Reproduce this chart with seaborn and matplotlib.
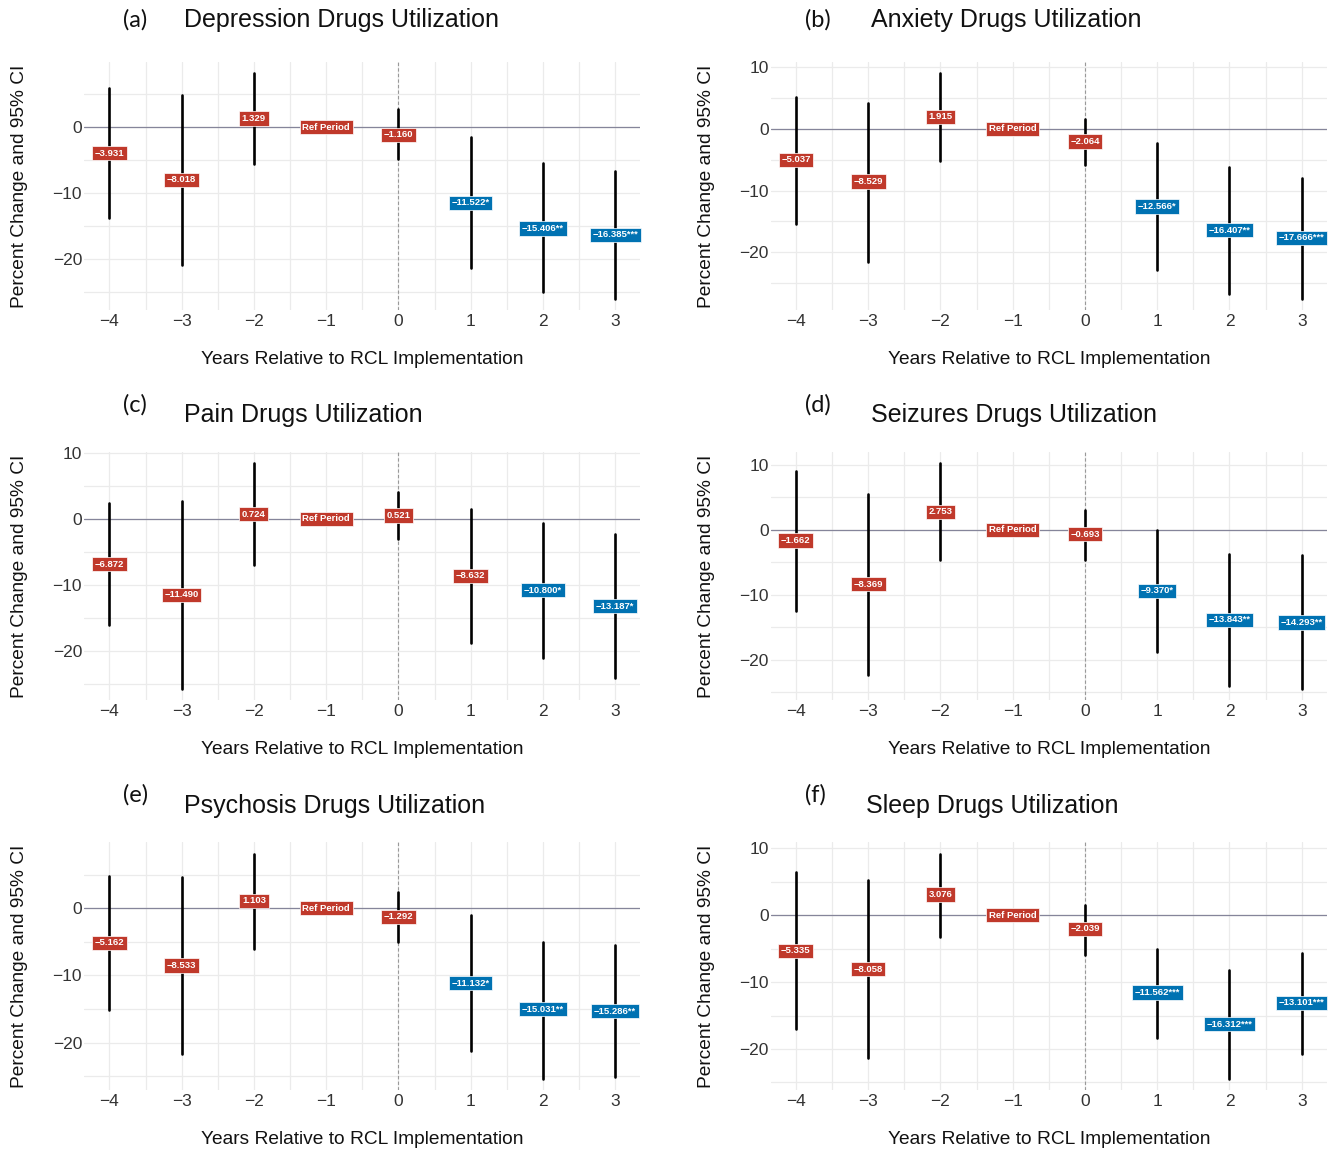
import numpy as np
import pandas as pd
import seaborn as sns
import matplotlib.pyplot as plt
from matplotlib.ticker import MultipleLocator

sns.set_theme(style='whitegrid')
plt.rcParams['font.family'] = ['Liberation Sans', 'DejaVu Sans']

# Event-study estimates (year -1 is the reference period)
years = [-4, -3, -2, -1, 0, 1, 2, 3]

dep_est = [-3.931, -8.018, 1.329, 0, -1.160, -11.522, -15.406, -16.385]
dep_lo = [-13.8, -20.9, -5.6, np.nan, -4.9, -21.4, -25.1, -26.1]
dep_hi = [5.9, 4.9, 8.2, np.nan, 2.7, -1.5, -5.5, -6.6]
dep_sig = ['', '', '', '', '', '*', '**', '***']

anx_est = [-5.037, -8.529, 1.915, 0, -2.064, -12.566, -16.407, -17.666]
anx_lo = [-15.4, -21.5, -5.3, np.nan, -5.8, -22.8, -26.7, -27.5]
anx_hi = [5.2, 4.2, 8.95, np.nan, 1.6, -2.35, -6.2, -7.9]
anx_sig = ['', '', '', '', '', '*', '**', '***']

pain_est = [-6.872, -11.490, 0.724, 0, 0.521, -8.632, -10.800, -13.187]
pain_lo = [-16.1, -25.75, -6.9, np.nan, -3.1, -18.85, -21.0, -24.1]
pain_hi = [2.45, 2.75, 8.4, np.nan, 4.1, 1.5, -0.6, -2.3]
pain_sig = ['', '', '', '', '', '', '*', '*']

seiz_est = [-1.662, -8.369, 2.753, 0, -0.693, -9.370, -13.843, -14.293]
seiz_lo = [-12.5, -22.3, -4.7, np.nan, -4.7, -18.75, -24.0, -24.5]
seiz_hi = [9.1, 5.5, 10.2, np.nan, 3.1, 0.0, -3.75, -3.9]
seiz_sig = ['', '', '', '', '', '*', '**', '**']

psy_est = [-5.162, -8.533, 1.103, 0, -1.292, -11.132, -15.031, -15.286]
psy_lo = [-15.2, -21.6, -6.0, np.nan, -5.1, -21.2, -25.4, -25.1]
psy_hi = [4.8, 4.6, 8.1, np.nan, 2.4, -1.0, -5.1, -5.5]
psy_sig = ['', '', '', '', '', '*', '**', '**']

sleep_est = [-5.335, -8.058, 3.076, 0, -2.039, -11.562, -16.312, -13.101]
sleep_lo = [-17.0, -21.4, -3.3, np.nan, -5.9, -18.3, -24.5, -20.8]
sleep_hi = [6.4, 5.2, 9.2, np.nan, 1.5, -5.0, -8.2, -5.6]
sleep_sig = ['', '', '', '', '', '***', '***', '***']

panels = [
    ('(a)', 'Depression Drugs Utilization', dep_est, dep_lo, dep_hi, dep_sig),
    ('(b)', 'Anxiety Drugs Utilization', anx_est, anx_lo, anx_hi, anx_sig),
    ('(c)', 'Pain Drugs Utilization', pain_est, pain_lo, pain_hi, pain_sig),
    ('(d)', 'Seizures Drugs Utilization', seiz_est, seiz_lo, seiz_hi,
     seiz_sig),
    ('(e)', 'Psychosis Drugs Utilization', psy_est, psy_lo, psy_hi, psy_sig),
    ('(f)', 'Sleep Drugs Utilization', sleep_est, sleep_lo, sleep_hi,
     sleep_sig),
]

RED = '#C0392B'
BLUE = '#0072B2'


def draw_panel(ax, letter, title, est, lo, hi, sig, row):
    """
    Draws one event-study panel: CI segments, zero line, labels
    """
    rows = []
    for yr, a, b in zip(years, lo, hi):
        if not np.isnan(a):
            rows.append({'year': yr, 'value': a})
            rows.append({'year': yr, 'value': b})
    df = pd.DataFrame(rows)
    ax.axhline(0, color='#85859a', lw=0.9, zorder=1.5)
    ax.axvline(0, color='#999999', lw=0.8, ls=(0, (3, 2)), zorder=1.5)
    sns.lineplot(data=df, x='year', y='value', units='year', estimator=None,
                 color='black', linewidth=1.9, ax=ax, zorder=2)

    for yr, e, s in zip(years, est, sig):
        if yr == -1:
            text = 'Ref Period'
        else:
            text = f'{e:.3f}'.replace('-', '\u2212') + s
        color = BLUE if s else RED
        ax.text(yr, e, text, ha='center', va='center', fontsize=6.8,
                weight='bold', color='white', zorder=5,
                bbox=dict(boxstyle='square,pad=0.28', fc=color,
                          ec='white', lw=0.5))

    ax.xaxis.set_major_locator(MultipleLocator(1))
    ax.xaxis.set_minor_locator(MultipleLocator(0.5))
    ax.yaxis.set_major_locator(MultipleLocator(10))
    ax.yaxis.set_minor_locator(MultipleLocator(5))
    ax.grid(which='both', color='#EBEBEB', lw=0.9)
    ax.tick_params(which='both', length=0, labelsize=12.5,
                   labelcolor='#333333')
    ax.tick_params(axis='x', pad=2.5)
    ax.tick_params(axis='y', pad=1.5)
    for sp in ax.spines.values():
        sp.set_visible(False)

    ax.set_xlabel('Years Relative to RCL Implementation', fontsize=13.8,
                  color='#111111')
    ax.set_ylabel('Percent Change and 95% CI', fontsize=13.8,
                  color='#111111')
    ax.xaxis.set_label_coords(0.5, -0.163)
    ax.yaxis.set_label_coords(-0.1, 0.5)

    letter_y = 1.17 if row == 0 else 1.19
    title_y = 1.168 if row == 0 else 1.148
    ax.text(0.07 if letter in ('(a)', '(c)', '(e)') else 0.061, letter_y,
            letter, transform=ax.transAxes, fontsize=17, family='Lato',
            va='center', ha='left', color='#111111')
    tx = 0.171 if letter == '(f)' else 0.18
    ax.text(tx, title_y, title, transform=ax.transAxes, fontsize=18,
            va='center', ha='left', color='#111111')


fig, axes = plt.subplots(3, 2, figsize=(13.35, 11.49), dpi=100)
plt.subplots_adjust(left=0.063, right=0.994, top=0.946, bottom=0.051,
                    wspace=0.234, hspace=0.573)

for i, (letter, title, est, lo, hi, sig) in enumerate(panels):
    draw_panel(axes[i // 2, i % 2], letter, title, est, lo, hi, sig, i // 2)

plt.savefig('out.png', dpi=100)
